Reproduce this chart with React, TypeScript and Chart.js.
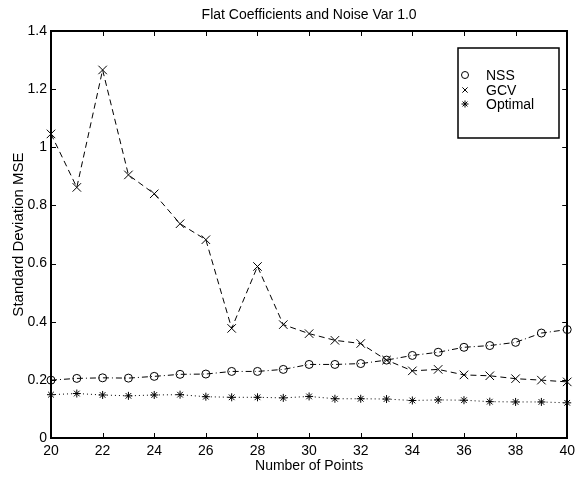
import React, { useEffect, useRef } from "react";
import { Chart, registerables } from "chart.js";

Chart.register(...registerables);

const TITLE = "Flat Coefficients and Noise Var 1.0";
const X_TITLE = "Number of Points";
const Y_TITLE = "Standard Deviation MSE";

const numPoints = [20, 21, 22, 23, 24, 25, 26, 27, 28, 29, 30, 31, 32, 33, 34, 35, 36, 37, 38, 39, 40];
const nss = [0.199, 0.205, 0.207, 0.206, 0.212, 0.219, 0.220, 0.229, 0.229, 0.236, 0.253, 0.253, 0.256, 0.268, 0.284, 0.295, 0.312, 0.318, 0.329, 0.361, 0.373];
const gcv = [1.046, 0.862, 1.266, 0.905, 0.840, 0.737, 0.682, 0.377, 0.590, 0.390, 0.359, 0.336, 0.325, 0.268, 0.231, 0.236, 0.217, 0.214, 0.204, 0.199, 0.193];
const optimal = [0.149, 0.153, 0.148, 0.145, 0.148, 0.149, 0.142, 0.140, 0.140, 0.138, 0.143, 0.135, 0.135, 0.134, 0.129, 0.131, 0.130, 0.125, 0.124, 0.124, 0.121];

const xTickValues = [20, 22, 24, 26, 28, 30, 32, 34, 36, 38, 40];
const yTickValues = [0, 0.2, 0.4, 0.6, 0.8, 1, 1.2, 1.4];

const seriesNames = ["NSS", "GCV", "Optimal"];

const FONT = '"Liberation Sans", Arial, Helvetica, sans-serif';

function drawMarker(ctx: CanvasRenderingContext2D, kind: string, x: number, y: number, r: number) {
  ctx.beginPath();
  if (kind === "circle") {
    ctx.arc(x, y, r, 0, Math.PI * 2);
  } else if (kind === "x") {
    const d = r * 0.75;
    ctx.moveTo(x - d, y - d); ctx.lineTo(x + d, y + d);
    ctx.moveTo(x - d, y + d); ctx.lineTo(x + d, y - d);
  } else {
    const d = r * 0.7;
    ctx.moveTo(x, y - r); ctx.lineTo(x, y + r);
    ctx.moveTo(x - r, y); ctx.lineTo(x + r, y);
    ctx.moveTo(x - d, y - d); ctx.lineTo(x + d, y + d);
    ctx.moveTo(x - d, y + d); ctx.lineTo(x + d, y - d);
  }
  ctx.stroke();
}

const framePlugin = {
  id: "frame",
  afterDraw(chart: any) {
    const { ctx, chartArea } = chart;
    const { left, right, top, bottom } = chartArea;
    const xs = chart.scales.x;
    const ys = chart.scales.y;
    ctx.save();
    ctx.strokeStyle = "#000";
    ctx.setLineDash([]);
    ctx.lineWidth = 1;
    const tl = 5;
    ctx.beginPath();
    for (const v of xTickValues) {
      const px = Math.round(xs.getPixelForValue(v)) + 0.5;
      ctx.moveTo(px, bottom); ctx.lineTo(px, bottom - tl);
      ctx.moveTo(px, top); ctx.lineTo(px, top + tl);
    }
    for (const v of yTickValues) {
      const py = Math.round(ys.getPixelForValue(v)) + 0.5;
      ctx.moveTo(left, py); ctx.lineTo(left + tl, py);
      ctx.moveTo(right, py); ctx.lineTo(right - tl, py);
    }
    ctx.stroke();
    ctx.lineWidth = 2;
    ctx.strokeRect(Math.round(left), Math.round(top), Math.round(right - left), Math.round(bottom - top));

    // title
    ctx.fillStyle = "#000";
    ctx.font = `14px ${FONT}`;
    ctx.textAlign = "center";
    ctx.textBaseline = "middle";
    ctx.fillText(TITLE, (left + right) / 2, 15);

    // legend
    const lx = 458, ly = 48, lw = 101, lh = 90;
    ctx.fillStyle = "#fff";
    ctx.fillRect(lx, ly, lw, lh);
    ctx.lineWidth = 1.5;
    ctx.strokeRect(lx, ly, lw, lh);
    const kinds = ["circle", "x", "star"];
    const rows = [75, 90, 104];
    ctx.lineWidth = 1;
    ctx.fillStyle = "#000";
    ctx.textAlign = "left";
    ctx.textBaseline = "middle";
    ctx.font = `14px ${FONT}`;
    seriesNames.forEach((name, i) => {
      drawMarker(ctx, kinds[i], 465, rows[i], 3.5);
      ctx.fillText(name, 486, rows[i] + 1);
    });
    ctx.restore();
  },
};

export default function App() {
  const ref = useRef<HTMLCanvasElement | null>(null);
  useEffect(() => {
    document.body.style.margin = "0";
    const canvas = ref.current;
    if (!canvas) return;
    Chart.defaults.font.family = FONT;
    Chart.defaults.color = "#000";
    const toPts = (arr: number[]) => numPoints.map((x, i) => ({ x, y: arr[i] }));
    const common = {
      borderColor: "#000",
      borderWidth: 1,
      pointBorderWidth: 1,
      pointBorderColor: "#000",
      pointBackgroundColor: "rgba(0,0,0,0)",
      fill: false,
      tension: 0,
      clip: false as any,
    };
    const chart = new Chart(canvas, {
      type: "line",
      data: {
        datasets: [
          { ...common, label: seriesNames[0], data: toPts(nss), borderDash: [6, 3, 1, 3], pointStyle: "circle", pointRadius: 4 },
          { ...common, label: seriesNames[1], data: toPts(gcv), borderDash: [6, 4], pointStyle: "crossRot", pointRadius: 6 },
          { ...common, label: seriesNames[2], data: toPts(optimal), borderDash: [1, 3], pointStyle: "star", pointRadius: 4 },
        ],
      },
      options: {
        animation: false,
        responsive: false,
        events: [],
        layout: { padding: { top: 31, right: 8, left: 0, bottom: 0 } },
        plugins: {
          legend: { display: false },
          tooltip: { enabled: false },
          title: { display: false },
        },
        scales: {
          x: {
            type: "linear",
            min: 20,
            max: 40,
            grid: { display: false, drawTicks: false },
            border: { display: false },
            ticks: { stepSize: 2, padding: 5, maxRotation: 0, font: { size: 14 }, color: "#000" },
            title: { display: true, text: X_TITLE, font: { size: 14 }, color: "#000", padding: { top: 0, bottom: 2 } },
            afterFit: (s: any) => { s.height = 39; },
          },
          y: {
            type: "linear",
            min: 0,
            max: 1.4,
            grid: { display: false, drawTicks: false },
            border: { display: false },
            ticks: {
              stepSize: 0.2,
              padding: 4,
              font: { size: 14 },
              color: "#000",
              callback: (v: any) => String(Math.round(Number(v) * 10) / 10),
            },
            title: { display: true, text: Y_TITLE, font: { size: 15 }, color: "#000", padding: { top: 10, bottom: 0 } },
            afterFit: (s: any) => { s.width = 51; },
          },
        },
      },
      plugins: [framePlugin],
    });
    return () => chart.destroy();
  }, []);
  return (
    <div style={{ width: 580, height: 477, background: "#fff" }}>
      <canvas ref={ref} width={580} height={477} style={{ display: "block" }} />
    </div>
  );
}
